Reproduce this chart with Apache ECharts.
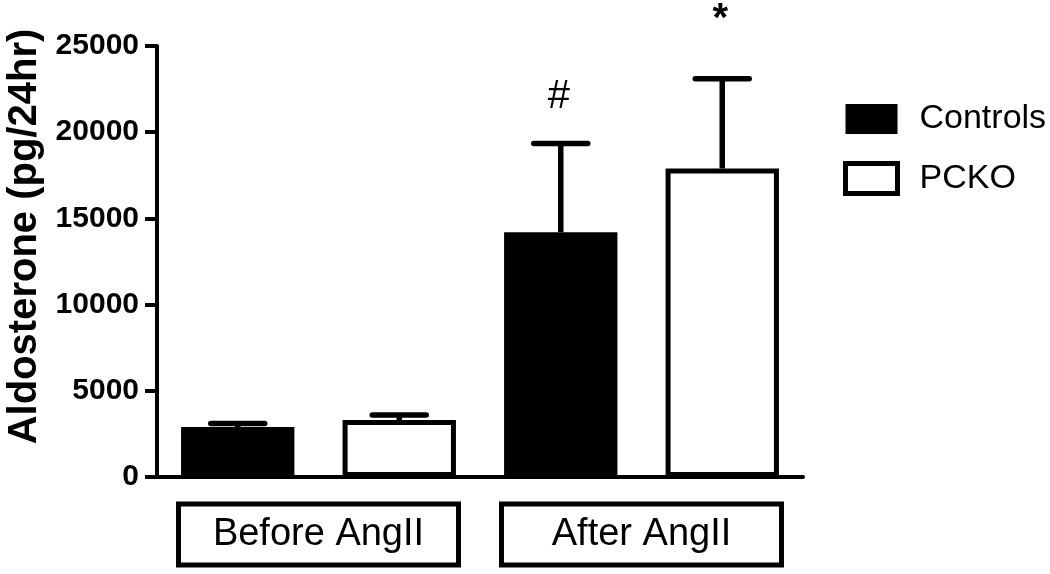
<!DOCTYPE html>
<html>
<head>
<meta charset="utf-8">
<script src="https://cdn.jsdelivr.net/npm/echarts@6/dist/echarts.min.js"></script>
<style>
html,body{margin:0;padding:0;background:#fff;}
#chart{width:1050px;height:574px;}
</style>
</head>
<body>
<div id="chart"></div>
<script>
// ---- data ----
const categories = ['Before AngII', 'After AngII'];
const seriesNames = ['Controls', 'PCKO'];
const controlsMean = [2900, 14200];
const controlsErrTop = [3100, 19350];
const pckoMean = [3300, 17900];
const pckoErrTop = [3600, 23100];
const controlsMarks = ['', '#'];
const pckoMarks = ['', '*'];
const yTicks = { min: 0, max: 25000, interval: 5000 };
const yName = 'Aldosterone (pg/24hr)';

const FONT = 'Liberation Sans, Arial, Helvetica, sans-serif';
const chart = echarts.init(document.getElementById('chart'), null, {renderer: 'canvas'});

function errRenderer(sign, marks) {
  return function (params, api) {
    const cat = api.value(0);
    const v = api.value(1);
    const e = api.value(2);
    const bw = api.size([1, 0])[0];
    const p0 = api.coord([cat, v]);
    const p1 = api.coord([cat, e]);
    const x = p0[0] + sign * 0.25 * bw;
    const children = [
      {type: 'line', shape: {x1: x, y1: p0[1], x2: x, y2: p1[1]},
       style: {stroke: '#000', lineWidth: 5.5}},
      {type: 'line', shape: {x1: x - 27, y1: p1[1], x2: x + 27, y2: p1[1]},
       style: {stroke: '#000', lineWidth: 5.5, lineCap: 'round'}}
    ];
    const m = marks[params.dataIndex];
    if (m) {
      const isStar = m === '*';
      children.push({type: 'text', x: x - 2, y: p1[1] - (isStar ? 59 : 46),
        style: {text: m, fill: '#000', font: (isStar ? 'bold 40px ' : '40px ') + FONT,
          align: 'center', verticalAlign: 'middle'}});
    }
    return {type: 'group', children: children};
  };
}

const option = {
  backgroundColor: '#fff',
  animation: false,
  textStyle: {fontFamily: FONT, color: '#000'},
  grid: {left: 157, right: 247, top: 46, bottom: 97, containLabel: false, outerBoundsMode: 'none'},
  legend: {
    left: 843, top: 102, orient: 'vertical', padding: 0,
    itemWidth: 52, itemHeight: 30, itemGap: 25,
    icon: 'rect',
    textStyle: {fontFamily: FONT, fontSize: 34, color: '#000', padding: [0, 0, 0, 17]},
    data: [
      {name: seriesNames[0], itemStyle: {color: '#000', borderWidth: 0}},
      {name: seriesNames[1], itemStyle: {color: '#fff', borderColor: '#000', borderWidth: 5}}
    ]
  },
  xAxis: {
    type: 'category',
    data: categories,
    axisLine: {lineStyle: {color: '#000', width: 4}},
    axisTick: {show: false},
    axisLabel: {
      margin: 27,
      fontFamily: FONT, fontSize: 38, color: '#000',
      borderColor: '#000', borderWidth: 5,
      width: 280, height: 61, lineHeight: 61,
      align: 'center', verticalAlign: 'top',
      interval: 0
    }
  },
  yAxis: {
    type: 'value',
    min: yTicks.min, max: yTicks.max, interval: yTicks.interval,
    name: yName, nameLocation: 'middle', nameGap: 107,
    nameTextStyle: {fontFamily: FONT, fontSize: 40, fontWeight: 'bold', color: '#000',
      padding: [0, 0, 0, 50]},
    axisLine: {show: true, lineStyle: {color: '#000', width: 4}},
    axisTick: {show: true, length: 12, lineStyle: {color: '#000', width: 4}},
    axisLabel: {fontFamily: FONT, fontSize: 30, fontWeight: 'bold', color: '#000', margin: 18,
      formatter: v => String(v)},
    splitLine: {show: false}
  },
  series: [
    {name: seriesNames[0], type: 'bar', data: controlsMean,
     barGap: '42.5%', barCategoryGap: '14.9%',
     itemStyle: {color: '#000'}, z: 2},
    {name: seriesNames[1], type: 'bar', data: pckoMean,
     barGap: '42.5%', barCategoryGap: '14.9%',
     itemStyle: {color: '#fff', borderColor: '#000', borderWidth: 5}, z: 2},
    {name: 'err-c', type: 'custom', renderItem: errRenderer(-1, controlsMarks),
     data: categories.map((c, i) => [i, controlsMean[i], controlsErrTop[i]]), z: 3, silent: true},
    {name: 'err-p', type: 'custom', renderItem: errRenderer(1, pckoMarks),
     data: categories.map((c, i) => [i, pckoMean[i], pckoErrTop[i]]), z: 3, silent: true}
  ]
};
chart.setOption(option);
</script>
</body>
</html>
